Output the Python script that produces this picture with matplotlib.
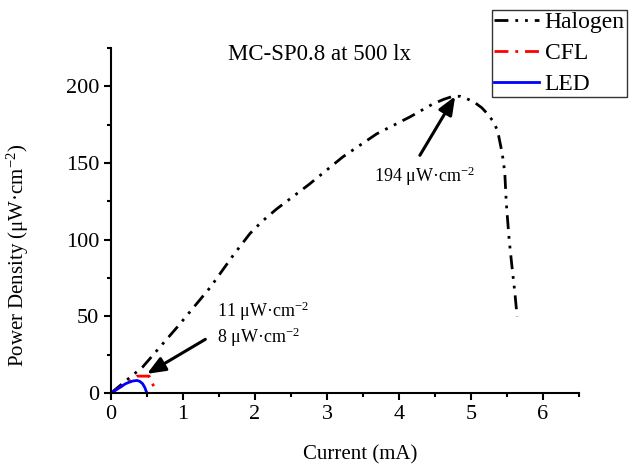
import matplotlib
matplotlib.use("Agg")
import matplotlib.pyplot as plt
from matplotlib.ticker import MultipleLocator

plt.rcParams["font.family"] = ["Liberation Serif", "DejaVu Serif"]
plt.rcParams["mathtext.fontset"] = "custom"
plt.rcParams["mathtext.rm"] = "Liberation Serif"
plt.rcParams["mathtext.it"] = "Liberation Serif:italic"

# data
halogen_x = [0, 0.44, 0.92, 1.38, 1.7, 1.93, 2.1, 2.3, 2.75, 3.22, 3.69, 4.15,
             4.47, 4.62, 4.75, 4.85, 4.94, 5.05, 5.15, 5.23, 5.31, 5.37, 5.40,
             5.43, 5.45, 5.47, 5.49, 5.53, 5.57, 5.61, 5.64]
halogen_y = [0, 17, 43, 69, 90, 104, 112, 120, 136, 154, 169, 180,
             188.5, 191.5, 193.5, 193.5, 192, 189.5, 186, 182, 177, 171, 164,
             157, 151, 143, 124, 100, 82, 65, 50]

cfl_x = [0, 0.1, 0.2, 0.3, 0.36, 0.45, 0.53, 0.57, 0.61, 0.63]
cfl_y = [0, 3, 6, 9, 11, 11, 11, 6.5, 3, 1.5]

led_x = [0, 0.05, 0.1, 0.15, 0.2, 0.25, 0.3, 0.36, 0.4, 0.44, 0.47, 0.49, 0.5]
led_y = [0, 1.5, 3, 4.5, 6, 7, 7.8, 8.2, 7.6, 6, 3.5, 1, 0]

peak_halogen = (4.78, 193.5)
peak_small = (0.5, 12.5)

fig = plt.figure(figsize=(6.29, 4.65), dpi=100)
ax = fig.add_axes([0.1765, 0.1548, 0.744, 0.742])

ax.plot(halogen_x, halogen_y, color="black", lw=2,
        linestyle=(0, (5, 2.5, 1, 2.5, 1, 2.5)), label="Halogen")
ax.plot(cfl_x, cfl_y, color="red", lw=2,
        linestyle=(0, (5, 2.5, 1, 2.5)), label="CFL")
ax.plot(led_x, led_y, color="blue", lw=2, linestyle="-", label="LED")

ax.set_xlim(0, 6.5)
ax.set_ylim(0, 225)
ax.xaxis.set_major_locator(MultipleLocator(1))
ax.xaxis.set_minor_locator(MultipleLocator(0.5))
ax.yaxis.set_major_locator(MultipleLocator(50))
ax.yaxis.set_minor_locator(MultipleLocator(25))
for side in ("top", "right"):
    ax.spines[side].set_visible(False)
for side in ("left", "bottom"):
    ax.spines[side].set_linewidth(1.5)
ax.tick_params(which="major", direction="out", length=5, width=1.5, labelsize=16)
ax.tick_params(which="minor", direction="out", length=3, width=1.5)

ax.set_xlabel("Current (mA)", fontsize=15)
ax.set_ylabel("Power Density (μW·cm$^{-2}$)", fontsize=15)
ax.xaxis.set_label_coords(0.532, -0.15)
ax.yaxis.set_label_coords(-0.172, 0.40)

ax.text(2.9, 221, "MC-SP0.8 at 500 lx", fontsize=16.5, ha="center", va="center")

arrow = dict(arrowstyle="-|>,head_length=1.1,head_width=0.45", color="black", lw=2.2,
             shrinkA=0, shrinkB=0)
ax.annotate("", xy=peak_halogen, xytext=(4.29, 155), arrowprops=arrow)
ax.text(4.35, 141, "194 μW·cm$^{-2}$", fontsize=13, ha="center", va="center")
ax.annotate("", xy=peak_small, xytext=(1.31, 35), arrowprops=arrow)
ax.text(1.47, 53, "11 μW·cm$^{-2}$", fontsize=13, ha="left", va="center")
ax.text(1.47, 36.5, "8 μW·cm$^{-2}$", fontsize=13, ha="left", va="center")

leg = fig.legend(loc="upper left", bbox_to_anchor=(492 / 629, 1 - 10 / 465),
                 fontsize=17, frameon=True, fancybox=False, handlelength=1.9,
                 handletextpad=0.25, borderpad=0.08, borderaxespad=0,
                 labelspacing=0.4)
leg.get_frame().set_edgecolor("black")
leg.get_frame().set_linewidth(1)

fig.savefig("out.png", dpi=100)
